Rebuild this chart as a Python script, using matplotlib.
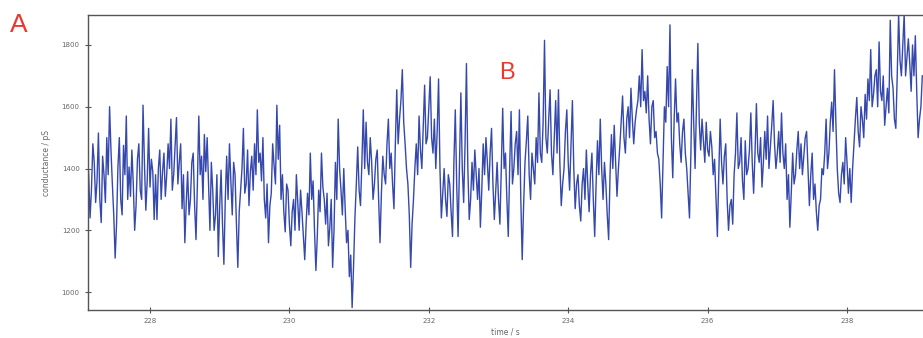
import numpy as np
import matplotlib.pyplot as plt

# -------------------------------------------------------------
# conductance trace (one value every 0.02 s)
# -------------------------------------------------------------
t_start = 227.1
dt = 0.02

g_227 = [1460, 1380, 1240, 1330, 1480, 1420, 1290, 1360, 1515, 1300,
         1225, 1440, 1380, 1290, 1500, 1380, 1600, 1460, 1350, 1250,
         1110, 1220, 1405, 1500, 1300, 1250, 1475, 1380, 1570, 1300,
         1405, 1310, 1460, 1350, 1200, 1280, 1430, 1480, 1330, 1300,
         1605, 1420, 1265, 1360, 1530, 1340, 1430, 1390, 1235, 1380]
g_228 = [1235, 1400, 1460, 1300, 1390, 1450, 1310, 1380, 1480, 1400,
         1560, 1330, 1380, 1470, 1565, 1350, 1420, 1480, 1270, 1380,
         1160, 1290, 1390, 1250, 1300, 1420, 1450, 1280, 1170, 1350,
         1570, 1380, 1440, 1300, 1510, 1390, 1500, 1350, 1200, 1420,
         1330, 1200, 1250, 1380, 1115, 1280, 1395, 1220, 1090, 1300]
g_229 = [1440, 1300, 1480, 1360, 1250, 1420, 1380, 1220, 1080, 1260,
         1330, 1400, 1530, 1320, 1350, 1460, 1280, 1390, 1440, 1330,
         1480, 1380, 1590, 1420, 1450, 1360, 1500, 1300, 1240, 1350,
         1160, 1280, 1320, 1480, 1410, 1350, 1605, 1430, 1540, 1300,
         1380, 1260, 1195, 1350, 1330, 1220, 1150, 1260, 1300, 1200]
g_230 = [1380, 1290, 1200, 1330, 1260, 1180, 1105, 1220, 1320, 1250,
         1450, 1300, 1360, 1200, 1070, 1180, 1330, 1260, 1450, 1340,
         1300, 1220, 1320, 1150, 1210, 1300, 1080, 1200, 1420, 1300,
         1560, 1400, 1330, 1250, 1400, 1270, 1160, 1200, 1050, 1120,
         950, 1080, 1240, 1350, 1470, 1330, 1280, 1420, 1590, 1400]
g_231 = [1550, 1420, 1380, 1500, 1420, 1300, 1350, 1430, 1460, 1300,
         1160, 1320, 1440, 1380, 1350, 1480, 1560, 1400, 1450, 1350,
         1270, 1480, 1655, 1480, 1560, 1620, 1720, 1550, 1480, 1400,
         1350, 1250, 1080, 1220, 1300, 1400, 1480, 1380, 1570, 1460,
         1400, 1530, 1670, 1480, 1500, 1600, 1697, 1500, 1450, 1560]
g_232 = [1400, 1520, 1690, 1400, 1240, 1320, 1400, 1300, 1245, 1380,
         1350, 1260, 1180, 1420, 1590, 1350, 1180, 1420, 1645, 1400,
         1290, 1480, 1740, 1400, 1235, 1300, 1420, 1330, 1460, 1380,
         1300, 1400, 1210, 1330, 1480, 1380, 1500, 1420, 1330, 1450,
         1530, 1350, 1235, 1330, 1420, 1300, 1220, 1400, 1595, 1400]
g_233 = [1450, 1300, 1180, 1400, 1585, 1350, 1400, 1480, 1520, 1380,
         1590, 1300, 1105, 1280, 1420, 1490, 1570, 1380, 1300, 1450,
         1400, 1350, 1500, 1420, 1645, 1450, 1420, 1550, 1815, 1500,
         1450, 1560, 1655, 1450, 1380, 1500, 1620, 1450, 1655, 1420,
         1280, 1350, 1400, 1520, 1590, 1420, 1330, 1480, 1620, 1400]
g_234 = [1270, 1350, 1380, 1280, 1230, 1350, 1400, 1300, 1460, 1350,
         1260, 1380, 1450, 1300, 1180, 1350, 1490, 1380, 1560, 1400,
         1300, 1420, 1350, 1250, 1170, 1380, 1510, 1400, 1540, 1420,
         1310, 1400, 1470, 1550, 1635, 1500, 1450, 1560, 1600, 1500,
         1660, 1560, 1480, 1550, 1590, 1620, 1700, 1600, 1785, 1620]
g_235 = [1650, 1580, 1700, 1560, 1480, 1600, 1620, 1500, 1520, 1450,
         1430, 1350, 1240, 1420, 1600, 1550, 1730, 1600, 1865, 1500,
         1370, 1560, 1690, 1550, 1580, 1480, 1420, 1520, 1560, 1450,
         1400, 1320, 1240, 1450, 1720, 1550, 1400, 1600, 1805, 1550,
         1460, 1560, 1490, 1420, 1550, 1460, 1440, 1520, 1470, 1380]
g_236 = [1430, 1300, 1180, 1380, 1560, 1420, 1350, 1440, 1480, 1300,
         1200, 1280, 1300, 1220, 1380, 1450, 1580, 1400, 1420, 1500,
         1360, 1300, 1490, 1380, 1400, 1460, 1580, 1420, 1320, 1450,
         1610, 1450, 1420, 1500, 1340, 1420, 1520, 1430, 1570, 1400,
         1470, 1540, 1620, 1480, 1400, 1450, 1520, 1420, 1580, 1450]
g_237 = [1400, 1480, 1300, 1380, 1210, 1320, 1450, 1350, 1380, 1460,
         1520, 1400, 1480, 1380, 1440, 1500, 1520, 1400, 1280, 1380,
         1450, 1300, 1350, 1260, 1200, 1280, 1300, 1400, 1380, 1450,
         1560, 1400, 1450, 1550, 1615, 1520, 1720, 1550, 1400, 1320,
         1290, 1380, 1420, 1350, 1500, 1420, 1320, 1400, 1290, 1400]
g_238 = [1480, 1560, 1630, 1520, 1470, 1600, 1560, 1500, 1640, 1560,
         1690, 1620, 1785, 1600, 1640, 1700, 1720, 1600, 1810, 1650,
         1620, 1700, 1540, 1600, 1660, 1580, 1880, 1700, 1660, 1560,
         1530, 1700, 1900, 1750, 1700, 1800, 1900, 1700, 1760, 1820,
         1740, 1650, 1800, 1700, 1830, 1650, 1500, 1560, 1600, 1700]

conductance = np.array(g_227 + g_228 + g_229 + g_230 + g_231 + g_232 +
                       g_233 + g_234 + g_235 + g_236 + g_237 + g_238)
time = t_start + dt * np.arange(len(conductance))

x_ticks = [228, 230, 232, 234, 236, 238]
y_ticks = [1000, 1200, 1400, 1600, 1800]

# -------------------------------------------------------------
# FIGURE
# -------------------------------------------------------------
fig = plt.figure(figsize=(9.23, 3.38), dpi=100)
ax = fig.add_axes([0.0953, 0.0828, 0.9047, 0.8728])

ax.plot(time, conductance, color='#3548ad', linewidth=1.0)

ax.set_xlim(227.11, 239.09)
ax.set_ylim(942, 1897)
ax.set_xticks(x_ticks)
ax.set_yticks(y_ticks)
ax.tick_params(direction='inout', length=5, width=0.8, labelsize=5,
               colors='#555555', labelcolor='#666666')

for side in ['left', 'top', 'bottom']:
    ax.spines[side].set_color('#555555')
    ax.spines[side].set_linewidth(1.0)
ax.spines['right'].set_visible(False)

ax.set_xlabel('time / s', fontsize=5.5, color='#666666', labelpad=2)
ax.set_ylabel('conductance / pS', fontsize=5.5, color='#666666', labelpad=8)

# panel letters
fig.text(19 / 923, 1 - 25 / 338, 'A', color='#e8392f', fontsize=19,
         family='Liberation Sans', ha='center', va='center')
fig.text(507 / 923, 1 - 73 / 338, 'B', color='#e8392f', fontsize=17,
         family='Liberation Sans', ha='center', va='center')

plt.savefig('out.png', dpi=100)
